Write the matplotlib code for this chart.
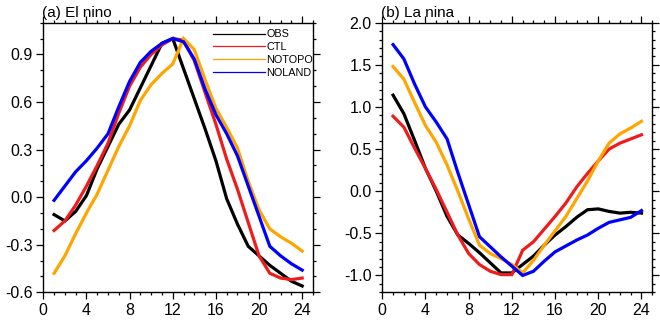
import matplotlib
matplotlib.use("Agg")
import matplotlib.pyplot as plt
from matplotlib.ticker import MultipleLocator

plt.rcParams["font.family"] = ["Liberation Sans", "DejaVu Sans"]

months = list(range(1, 25))
series_names = ["OBS", "CTL", "NOTOPO", "NOLAND"]
series_colors = ["black", "#ee1c1c", "#ffa500", "#0000ff"]

# (a) El nino
nino_obs = [-0.11, -0.15, -0.09, 0.01, 0.18, 0.32, 0.46, 0.55, 0.69, 0.83, 0.97, 1.00,
            0.81, 0.62, 0.43, 0.23, -0.01, -0.17, -0.31, -0.37, -0.43, -0.48, -0.53, -0.56]
nino_ctl = [-0.21, -0.15, -0.05, 0.07, 0.20, 0.34, 0.53, 0.70, 0.82, 0.90, 0.96, 1.00,
            0.99, 0.86, 0.66, 0.46, 0.24, 0.05, -0.16, -0.37, -0.48, -0.51, -0.52, -0.51]
nino_notopo = [-0.48, -0.37, -0.23, -0.10, 0.02, 0.17, 0.32, 0.45, 0.61, 0.71, 0.78, 0.84,
               1.00, 0.93, 0.74, 0.56, 0.44, 0.31, 0.10, -0.08, -0.20, -0.25, -0.29, -0.34]
nino_noland = [-0.02, 0.07, 0.16, 0.23, 0.31, 0.40, 0.57, 0.73, 0.85, 0.92, 0.97, 1.00,
               0.98, 0.87, 0.68, 0.52, 0.40, 0.26, 0.07, -0.12, -0.31, -0.37, -0.42, -0.46]

# (b) La nina
nina_obs = [1.14, 0.92, 0.60, 0.27, 0.00, -0.30, -0.52, -0.62, -0.73, -0.85, -0.97, -0.97,
            -0.87, -0.77, -0.64, -0.52, -0.42, -0.31, -0.22, -0.21, -0.24, -0.26, -0.25, -0.26]
nina_ctl = [0.89, 0.76, 0.51, 0.27, 0.02, -0.25, -0.52, -0.74, -0.87, -0.95, -0.99, -0.99,
            -0.70, -0.60, -0.45, -0.30, -0.14, 0.05, 0.21, 0.36, 0.50, 0.57, 0.62, 0.67]
nina_notopo = [1.48, 1.33, 1.05, 0.78, 0.58, 0.31, 0.00, -0.33, -0.64, -0.74, -0.80, -0.87,
               -0.97, -0.82, -0.64, -0.47, -0.30, -0.09, 0.12, 0.36, 0.57, 0.68, 0.75, 0.83]
nina_noland = [1.74, 1.57, 1.27, 1.00, 0.82, 0.62, 0.22, -0.16, -0.54, -0.66, -0.78, -0.89,
               -1.00, -0.95, -0.83, -0.72, -0.65, -0.58, -0.52, -0.44, -0.37, -0.34, -0.31, -0.23]

panels = [
    ("(a) El nino", [nino_obs, nino_ctl, nino_notopo, nino_noland], (-0.6, 1.1), 0.3),
    ("(b) La nina", [nina_obs, nina_ctl, nina_notopo, nina_noland], (-1.2, 2.0), 0.5),
]

fig = plt.figure(figsize=(6.6, 3.22), dpi=100)
axes = [fig.add_axes([0.0656, 0.0922, 0.4086, 0.8373]),
        fig.add_axes([0.5792, 0.0922, 0.4091, 0.8373])]

for ax, (title, data, ylim, ystep) in zip(axes, panels):
    for name, color, values in zip(series_names, series_colors, data):
        ax.plot(months, values, color=color, lw=2.3, label=name, solid_joinstyle="miter")
    ax.set_xlim(0, 25)
    ax.set_ylim(*ylim)
    ax.xaxis.set_major_locator(MultipleLocator(4))
    ax.xaxis.set_minor_locator(MultipleLocator(1))
    ax.yaxis.set_major_locator(MultipleLocator(ystep))
    ax.yaxis.set_minor_locator(MultipleLocator(0.1))
    ax.yaxis.set_major_formatter(lambda v, pos: f"{v:.1f}".replace("-0.0", "0.0"))
    ax.tick_params(which="both", direction="out", top=True, right=True,
                   labelsize=11.5, width=0.9)
    ax.tick_params(which="major", length=5, pad=2.5)
    ax.tick_params(which="minor", length=2.5)
    for sp in ax.spines.values():
        sp.set_linewidth(1.0)
    ax.set_title(title, loc="left", fontsize=11, pad=4, x=-0.005)

leg = axes[0].legend(loc="upper right", bbox_to_anchor=(1.0, 0.975), frameon=False,
                     fontsize=7.8, handlelength=4.8, handletextpad=0.1,
                     labelspacing=0.26, borderpad=0, borderaxespad=0)
for line in leg.get_lines():
    line.set_linewidth(0.9)

fig.savefig("out.png", dpi=100)
